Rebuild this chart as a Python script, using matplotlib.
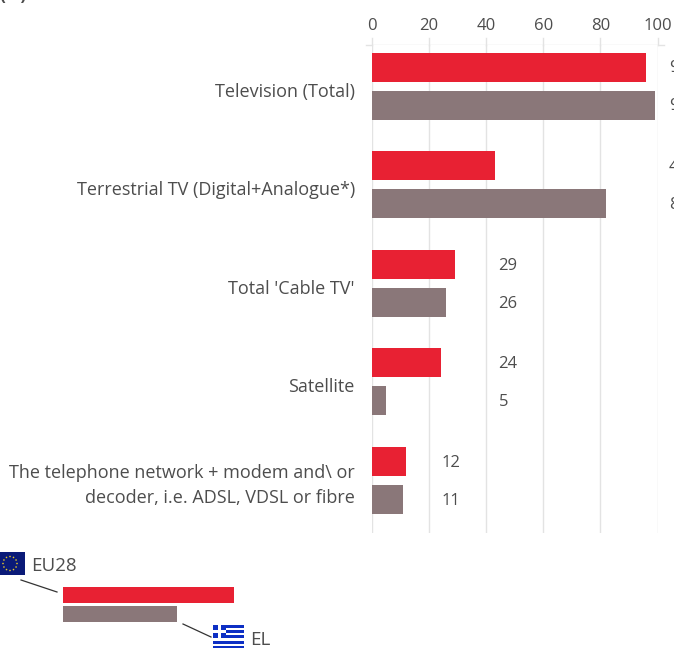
import matplotlib
matplotlib.use('Agg')
from matplotlib import pyplot as plt
from matplotlib.patches import Rectangle, Circle
import numpy as np

categories = ['Television (Total)', 'Terrestrial TV (Digital+Analogue*)', "Total 'Cable TV'",
              'Satellite', 'The telephone network + modem and\\ or\ndecoder, i.e. ADSL, VDSL or fibre']
eu28 = [96, 43, 29, 24, 12]
el = [99, 82, 26, 5, 11]
ticks = [0, 20, 40, 60, 80, 100]
# value labels sit in a column per group, not at the bar end
label_pos = [104, 104, 44.3, 44.3, 24.3]

RED = '#e82133'
GREY = '#8a7779'
TEXT = '#4d4d4d'
W, H = 674, 648

plt.rcParams['font.family'] = ['Open Sans', 'DejaVu Sans']
fig = plt.figure(figsize=(W / 100, H / 100), dpi=100)

# overlay in pixel coordinates for legend and unit label
px = fig.add_axes([0, 0, 1, 1])
px.set_xlim(0, W)
px.set_ylim(H, 0)
px.axis('off')

ax = fig.add_axes([372 / W, 1 - 533 / H, (657.5 - 372) / W, (533 - 45) / H])
ax.set_xlim(0, 100)
# y units: one group is 98.5 px, axis runs 45..533 px
ax.set_ylim(488 / 98.5, 0)

for i in range(len(categories)):
    y1 = (67 - 45 + i * 98.5) / 98.5
    y2 = (105 - 45 + i * 98.5) / 98.5
    ax.barh(y1, eu28[i], height=29 / 98.5, color=RED, zorder=3)
    ax.barh(y2, el[i], height=29 / 98.5, color=GREY, zorder=3)
    ax.text(label_pos[i], y1 + 1.5 / 98.5, str(eu28[i]), fontsize=12, color=TEXT, va='center', clip_on=False)
    ax.text(label_pos[i], y2 + 1.5 / 98.5, str(el[i]), fontsize=12, color=TEXT, va='center', clip_on=False)
    ax.text(-6, (y1 + y2) / 2 + 5.5 / 98.5, categories[i], fontsize=13, color=TEXT, ha='right', va='center',
            multialignment='right', linespacing=1.45)

ax.set_yticks([])
ax.set_xticks(ticks)
ax.xaxis.tick_top()
ax.tick_params(axis='x', length=0, pad=8, labelsize=12, labelcolor=TEXT)
for s in ax.spines.values():
    s.set_visible(False)
ax.grid(axis='x', color='#e3e3e3', linewidth=1, zorder=0)
ax.set_axisbelow(True)
for t in ticks:
    ax.plot([t, t], [-7 / 98.5, 0], color='#e3e3e3', linewidth=1, clip_on=False, zorder=0)
px.plot([366, 664], [45, 45], color='#e3e3e3', linewidth=1)

# unit label, cut off by the top edge as in the original
px.text(-1, -5, '(%)', fontsize=12.5, color=TEXT, fontweight='bold', va='center', ha='left')

# legend bars
px.add_patch(Rectangle((63, 587), 171, 16, color=RED, lw=0))
px.add_patch(Rectangle((63, 606), 114, 16, color=GREY, lw=0))
px.plot([21, 57], [580, 592], color='#333333', linewidth=0.9)
px.plot([183, 211], [624, 637], color='#333333', linewidth=0.9)
px.text(31, 566, 'EU28', fontsize=13.5, color=TEXT, va='center')
px.text(250, 640, 'EL', fontsize=13.5, color=TEXT, va='center')

# EU flag
px.add_patch(Rectangle((-1, 552), 26, 23, color='#0a1a78', lw=0))
for a in np.arange(0, 360, 30):
    px.add_patch(Circle((10 + 7 * np.cos(np.radians(a)), 563.5 + 7 * np.sin(np.radians(a))), 0.8,
                        color='#e8c92a', lw=0))

# Greek flag
blue = '#0d2fc4'
for k in range(5):
    px.add_patch(Rectangle((213, 625 + k * 5.2), 31, 3, color=blue, lw=0))
px.add_patch(Rectangle((213, 625), 13, 13, color=blue, lw=0))
px.add_patch(Rectangle((218, 625), 2.8, 13, color='white', lw=0))
px.add_patch(Rectangle((213, 630.2), 13, 2.6, color='white', lw=0))

fig.savefig('out.png', dpi=100)
